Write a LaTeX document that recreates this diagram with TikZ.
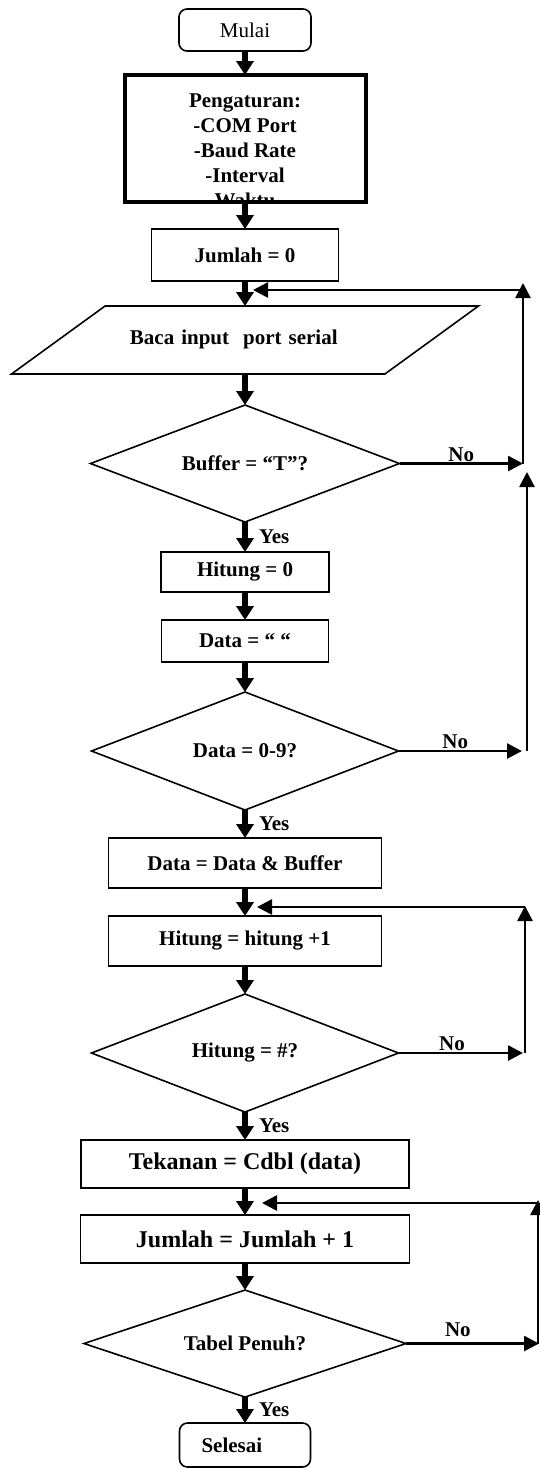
\documentclass[tikz,border=0pt]{standalone}
\usepackage{fontspec}
\setmainfont{Liberation Serif}
\usetikzlibrary{
	positioning,
	arrows.meta,
	shapes.geometric,
	calc}
\tikzset{
	chart/.style={
		x=1pt, y=1pt,
		node distance=14pt,
		font=\fontsize{10.5}{12}\selectfont\bfseries
		},
	terminal/.style={
		rectangle,
		rounded corners=4pt,
		draw,
		line width=0.8pt,
		inner sep=0pt,
		outer sep=0pt,
		minimum width=66pt,
		minimum height=21pt
	},
	process/.style={
		rectangle,
		draw,
		line width=0.8pt,
		inner sep=0pt,
		outer sep=0pt
	},
	big text/.style={
		font=\fontsize{12}{14}\selectfont\bfseries
	},
	setup box/.style={
		rectangle,
		draw,
		line width=2pt,
		inner sep=0pt,
		outer sep=0pt,
		minimum width=120.5pt,
		minimum height=63.5pt
	},
	io/.style={
		trapezium,
		trapezium left angle=36,
		trapezium right angle=144,
		draw,
		line width=0.8pt,
		outer sep=0pt,
		inner xsep=12.45pt,
		inner ysep=12.25pt,
		text height=7.2pt,
		text depth=2.3pt
	},
	decision/.style={
		diamond,
		aspect=2.6,
		draw,
		line width=0.8pt,
		inner sep=0pt,
		outer sep=0pt
	},
	flow/.style={
		line width=3pt,
		-{Triangle[length=7pt, width=8.5pt]}
	},
	loop/.style={
		line width=1.3pt,
		-{Triangle[length=7.5pt, width=7.5pt]}
	},
	yes label/.style={
		anchor=west,
		xshift=4.5pt,
		inner sep=1pt
	},
	no label/.style={
		above,
		inner sep=0.5pt
	},
}

\begin{document}
\begin{tikzpicture}[chart]
	\useasboundingbox (0,0) rectangle (270,-734);
	\node[terminal, font=\fontsize{10.5}{12}\selectfont] (mulai) at (122.5,-15) {Mulai};
	\node[setup box, below=12pt of mulai, path picture={
		\node[anchor=north, inner sep=0pt, align=center, yshift=-6pt,
			font=\fontsize{10.5}{12.5}\selectfont\bfseries] (setuptext)
			at (path picture bounding box.north)
			{Pengaturan:\\-COM Port\\-Baud Rate\\-Interval\\Waktu};
		}] (setup) {};
	\node[process, minimum width=93.5pt, minimum height=26pt, below=13.5pt of setup] (jml0) {Jumlah = 0};
	\node[io, text width=115pt, align=left, below=12.5pt of jml0] (read) {Baca input\ \ port serial};
	\node[decision, minimum width=154.5pt, minimum height=58.5pt, below=15.5pt of read] (buf) {Buffer = “T”?};
	\node[process, minimum width=84pt, minimum height=20pt, below=15pt of buf] (hit0) {Hitung = 0};
	\node[process, minimum width=83.5pt, minimum height=21pt, below=14pt of hit0] (data0) {Data = “ “};
	\node[decision, minimum width=153.5pt, minimum height=59pt, below=15pt of data0] (dig) {Data = 0-9?};
	\node[process, minimum width=136.5pt, minimum height=25pt, below=of dig] (datbuf) {Data = Data \& Buffer};
	\node[process, minimum width=136.5pt, minimum height=25pt, below=of datbuf] (hit1) {Hitung = hitung +1};
	\node[decision, minimum width=153.5pt, minimum height=59pt, below=of hit1] (hitq) {Hitung = \#?};
	\node[process, big text, minimum width=164pt, minimum height=24pt, below=of hitq] (tek) {Tekanan = Cdbl (data)};
	\node[process, big text, minimum width=164.5pt, minimum height=24pt, below=13.5pt of tek] (jml1) {Jumlah = Jumlah + 1};
	\node[decision, minimum width=161pt, minimum height=53.5pt, below=13.5pt of jml1] (tabel) {Tabel Penuh?};
	\node[terminal, minimum width=65.5pt, minimum height=22pt, text width=43.5pt, align=left, below=13pt of tabel] (selesai) {Selesai};
	\coordinate (rail1) at (261.5,-145);
	\coordinate (rail2) at (263.5,-236);
	\coordinate (rail3) at (262.5,-453.5);
	\coordinate (rail4) at (269,-601.5);
%
	\draw[flow] (mulai.south) -- (setup.north);
	\draw[flow] (setup.south) -- (jml0.north);
	\draw[flow] (jml0.south) -- (read.north);
	\draw[flow] (read.south) -- (buf.north);
	\draw[flow] (buf.south) -- (hit0.north) node[yes label, midway] {Yes};
	\draw[flow] (hit0.south) -- (data0.north);
	\draw[flow] (data0.south) -- (dig.north);
	\draw[flow] (dig.south) -- (datbuf.north) node[yes label, midway] {Yes};
	\draw[flow] (datbuf.south) -- (hit1.north);
	\draw[flow] (hit1.south) -- (hitq.north);
	\draw[flow] (hitq.south) -- (tek.north) node[yes label, midway] {Yes};
	\draw[flow] (tek.south) -- (jml1.north);
	\draw[flow] (jml1.south) -- (tabel.north);
	\draw[flow] (tabel.south) -- (selesai.north) node[yes label, midway] {Yes};
%
	\draw[loop] (buf.east) -- (buf.east -| rail1) node[no label, midway] {No};
	\draw[loop] (buf.east -| rail1) -- ($(rail1)+(0,3.5)$);
	\draw[loop] (rail1) -- ($(rail1 -| read.north)+(4,0)$);
	\draw[loop] (dig.east) -- ($(dig.east -| rail2)+(-2.5,0)$) node[no label, pos=.46] {No};
	\draw[loop] (dig.east -| rail2) -- (rail2);
	\draw[loop] (hitq.east) -- ($(hitq.east -| rail3)+(-1,0)$) node[no label, pos=.43] {No};
	\draw[loop] (hitq.east -| rail3) -- ($(rail3)+(0,.5)$);
	\draw[loop] (rail3) -- ($(rail3 -| hit1.north)+(6,0)$);
	\draw[loop] (tabel.east) -- ($(tabel.east -| rail4)+(.5,0)$) node[no label, pos=.39, inner sep=3pt] {No};
	\draw[loop] (tabel.east -| rail4) -- ($(rail4)+(0,1.5)$);
	\draw[loop] (rail4) -- ($(rail4 -| jml1.north)+(8.5,0)$);
\end{tikzpicture}
\end{document}
